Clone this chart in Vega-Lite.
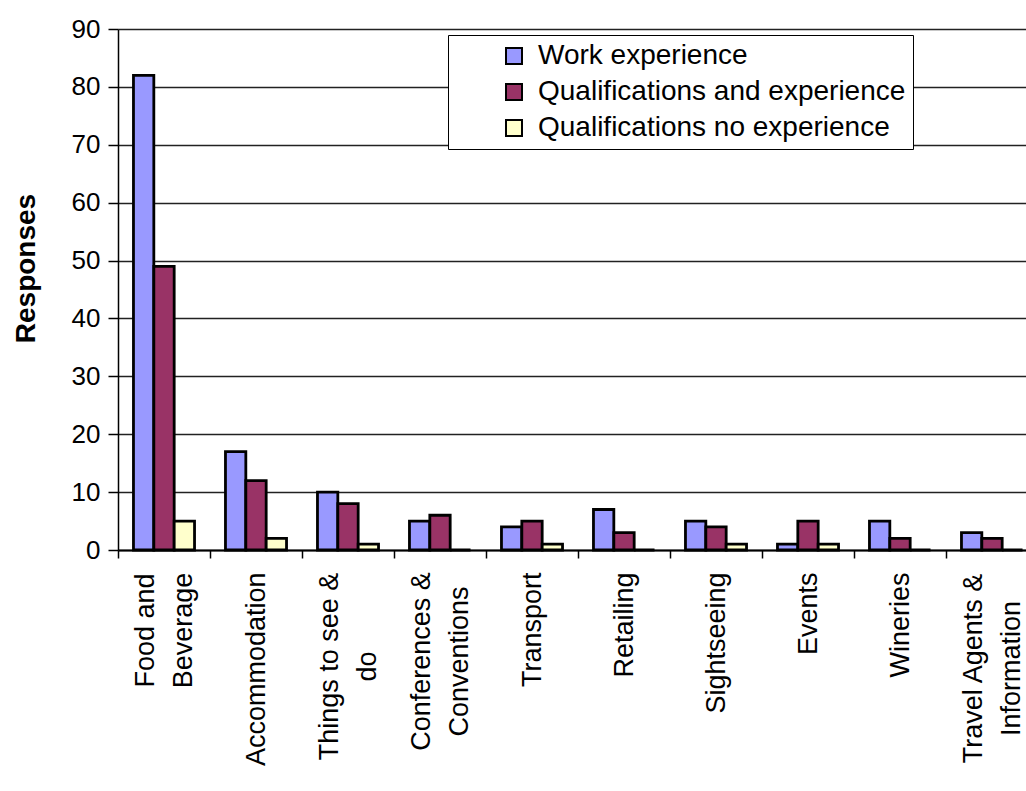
{
  "$schema": "https://vega.github.io/schema/vega-lite/v6.json",
  "autosize": {"type": "none"},
  "width": 908,
  "height": 521,
  "padding": {"left": 118, "top": 29, "right": 0, "bottom": 241},
  "background": "white",
  "config": {
    "font": "Liberation Sans",
    "view": {"stroke": null},
    "axis": {"labelColor": "#000", "titleColor": "#000", "domainColor": "#000", "tickColor": "#000"}
  },
  "data": {
    "values": [
      {"category": "Food and Beverage", "series": "Work experience", "responses": 82},
      {"category": "Food and Beverage", "series": "Qualifications and experience", "responses": 49},
      {"category": "Food and Beverage", "series": "Qualifications no experience", "responses": 5},
      {"category": "Accommodation", "series": "Work experience", "responses": 17},
      {"category": "Accommodation", "series": "Qualifications and experience", "responses": 12},
      {"category": "Accommodation", "series": "Qualifications no experience", "responses": 2},
      {"category": "Things to see & do", "series": "Work experience", "responses": 10},
      {"category": "Things to see & do", "series": "Qualifications and experience", "responses": 8},
      {"category": "Things to see & do", "series": "Qualifications no experience", "responses": 1},
      {"category": "Conferences & Conventions", "series": "Work experience", "responses": 5},
      {"category": "Conferences & Conventions", "series": "Qualifications and experience", "responses": 6},
      {"category": "Conferences & Conventions", "series": "Qualifications no experience", "responses": 0},
      {"category": "Transport", "series": "Work experience", "responses": 4},
      {"category": "Transport", "series": "Qualifications and experience", "responses": 5},
      {"category": "Transport", "series": "Qualifications no experience", "responses": 1},
      {"category": "Retailing", "series": "Work experience", "responses": 7},
      {"category": "Retailing", "series": "Qualifications and experience", "responses": 3},
      {"category": "Retailing", "series": "Qualifications no experience", "responses": 0},
      {"category": "Sightseeing", "series": "Work experience", "responses": 5},
      {"category": "Sightseeing", "series": "Qualifications and experience", "responses": 4},
      {"category": "Sightseeing", "series": "Qualifications no experience", "responses": 1},
      {"category": "Events", "series": "Work experience", "responses": 1},
      {"category": "Events", "series": "Qualifications and experience", "responses": 5},
      {"category": "Events", "series": "Qualifications no experience", "responses": 1},
      {"category": "Wineries", "series": "Work experience", "responses": 5},
      {"category": "Wineries", "series": "Qualifications and experience", "responses": 2},
      {"category": "Wineries", "series": "Qualifications no experience", "responses": 0},
      {"category": "Travel Agents & Information", "series": "Work experience", "responses": 3},
      {"category": "Travel Agents & Information", "series": "Qualifications and experience", "responses": 2},
      {"category": "Travel Agents & Information", "series": "Qualifications no experience", "responses": 0}
    ]
  },
  "mark": {"type": "bar", "stroke": "#000", "strokeWidth": 2.8},
  "encoding": {
    "x": {
      "field": "category",
      "type": "nominal",
      "sort": null,
      "scale": {"range": [0, 920], "paddingInner": 0, "paddingOuter": 0},
      "axis": {
        "title": null,
        "labelAngle": -90,
        "labelAlign": {"condition": {"test": "indexof(datum.label, '&') >= 0 || datum.label == 'Food and Beverage'", "value": "center"}, "value": "right"},
        "labelBaseline": "middle",
        "labelFontSize": 27,
        "labelLineHeight": 38,
        "labelPadding": {"condition": [
          {"test": "datum.label == 'Food and Beverage'", "value": 72},
          {"test": "datum.label == 'Things to see & do'", "value": 108},
          {"test": "datum.label == 'Conferences & Conventions'", "value": 103},
          {"test": "datum.label == 'Travel Agents & Information'", "value": 110}
        ], "value": 14},
        "labelLimit": 400,
        "labelOffset": {"condition": {"test": "indexof(datum.label, '&') >= 0 || datum.label == 'Food and Beverage'", "value": -19}, "value": 0},
        "tickBand": "extent",
        "tickSize": 8,
        "tickWidth": 1.5,
        "domainWidth": 2,
        "grid": false,
        "labelExpr": "datum.label == 'Food and Beverage' ? ['Food and', 'Beverage'] : datum.label == 'Things to see & do' ? ['Things to see &', 'do'] : datum.label == 'Conferences & Conventions' ? ['Conferences &', 'Conventions'] : datum.label == 'Travel Agents & Information' ? ['Travel Agents &', 'Information'] : datum.label"
      }
    },
    "xOffset": {
      "field": "series",
      "type": "nominal",
      "sort": ["Work experience", "Qualifications and experience", "Qualifications no experience"],
      "scale": {"paddingInner": 0, "paddingOuter": 0.76}
    },
    "y": {
      "field": "responses",
      "type": "quantitative",
      "scale": {"domain": [0, 90], "nice": false},
      "axis": {
        "title": "Responses",
        "titleFontSize": 28,
        "titleFontWeight": "bold",
        "titleX": -84,
        "titleY": 239,
        "titleBaseline": "alphabetic",
        "values": [0, 10, 20, 30, 40, 50, 60, 70, 80, 90],
        "labelFontSize": 26,
        "labelPadding": 8,
        "tickSize": 10,
        "tickWidth": 1.5,
        "domainWidth": 1.5,
        "grid": true,
        "gridColor": "#222",
        "gridWidth": 1.5,
        "gridOpacity": 1
      }
    },
    "color": {
      "field": "series",
      "type": "nominal",
      "sort": ["Work experience", "Qualifications and experience", "Qualifications no experience"],
      "scale": {
        "domain": ["Work experience", "Qualifications and experience", "Qualifications no experience"],
        "range": ["#9999FF", "#993366", "#FFFFCC"]
      },
      "legend": {
        "title": null,
        "orient": "none",
        "legendX": 330,
        "legendY": 6,
        "padding": 7,
        "fillColor": "#fff",
        "strokeColor": "#000",
        "symbolType": "square",
        "symbolSize": 256,
        "symbolStrokeColor": "#000",
        "symbolStrokeWidth": 2,
        "symbolOffset": 45,
        "labelFontSize": 28,
        "labelColor": "#000",
        "labelOffset": 10,
        "labelLimit": 500,
        "rowPadding": 8
      }
    }
  }
}
